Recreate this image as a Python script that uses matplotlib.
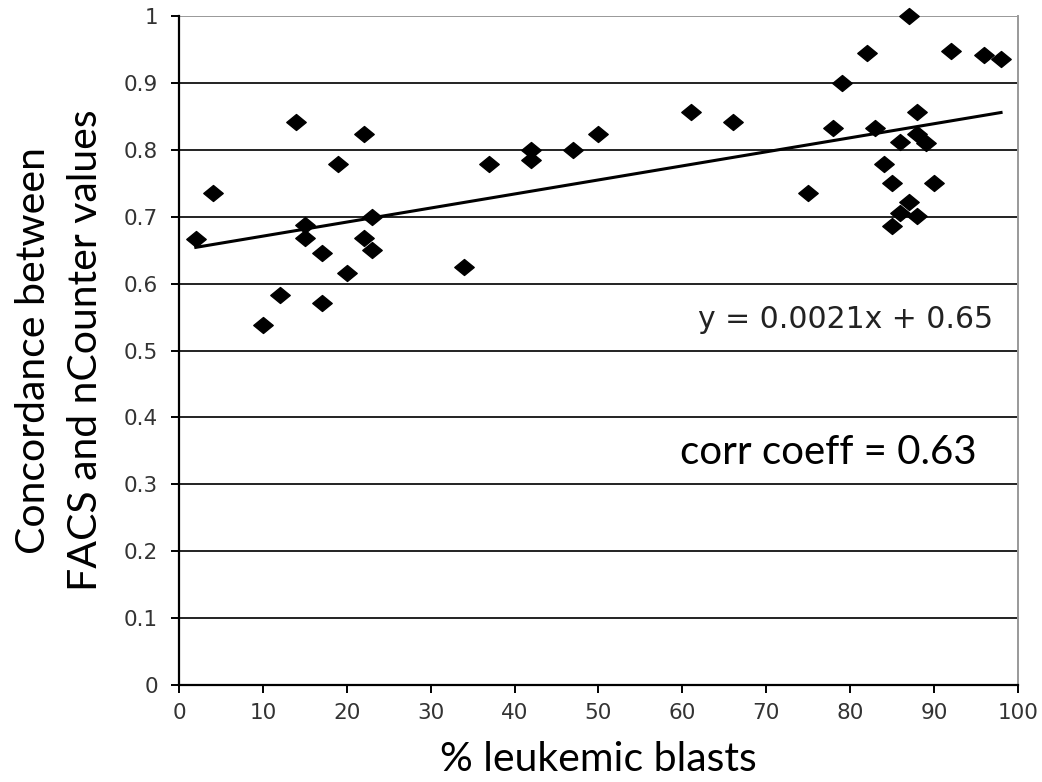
import numpy as np
import matplotlib.pyplot as plt
from matplotlib.path import Path

# % leukemic blasts vs concordance (FACS / nCounter)
blasts = [2, 4, 10, 12, 14, 15, 15, 17, 17, 19, 20, 22, 22, 23, 23,
          34, 37, 42, 42, 47, 50, 61, 66, 75, 78, 79, 82, 83, 84, 85,
          85, 86, 86, 87, 87, 88, 88, 88, 89, 90, 92, 96, 98]
concordance = [0.667, 0.736, 0.538, 0.583, 0.842, 0.688, 0.668, 0.646, 0.571,
               0.779, 0.616, 0.824, 0.668, 0.700, 0.650, 0.625, 0.779, 0.800,
               0.785, 0.800, 0.824, 0.857, 0.842, 0.735, 0.833, 0.900, 0.944,
               0.833, 0.779, 0.750, 0.686, 0.812, 0.706, 1.000, 0.722, 0.857,
               0.824, 0.701, 0.810, 0.750, 0.948, 0.942, 0.936]

slope, intercept = 0.0021, 0.65
x_ticks = list(range(0, 101, 10))
y_ticks = [0, 0.1, 0.2, 0.3, 0.4, 0.5, 0.6, 0.7, 0.8, 0.9, 1]
y_ticklabels = ['0', '0.1', '0.2', '0.3', '0.4', '0.5', '0.6', '0.7', '0.8', '0.9', '1']

big_font = ['Lato', 'DejaVu Sans']

fig = plt.figure(figsize=(10.42, 7.82), dpi=100)
ax = fig.add_axes([0.1718, 0.124, 0.805, 0.8555])

# Excel-like gridlines
for yv in y_ticks[1:-1]:
    ax.axhline(yv, color='#222222', lw=1.4, zorder=1)
ax.axhline(1.0, color='#999999', lw=1.4, zorder=1)

# diamond marker, a little wider than tall
diamond = Path([(-1, 0), (0, 0.82), (1, 0), (0, -0.82), (-1, 0)],
               [Path.MOVETO, Path.LINETO, Path.LINETO, Path.LINETO, Path.CLOSEPOLY])
ax.plot(blasts, concordance, linestyle='none', marker=diamond, ms=14,
        color='black', zorder=3, clip_on=False)

xfit = np.array([min(blasts), max(blasts)])
ax.plot(xfit, slope * xfit + intercept, color='black', lw=2.2, zorder=2)

ax.set_xlim(0, 100)
ax.set_ylim(0, 1)
ax.set_xticks(x_ticks)
ax.set_yticks(y_ticks)
ax.set_yticklabels(y_ticklabels)
ax.tick_params(axis='both', direction='out', length=6, width=1.4,
               labelsize=15.5, labelcolor='#333333', color='black')
ax.tick_params(axis='x', pad=7)
ax.tick_params(axis='y', pad=9)

for side in ['left', 'bottom']:
    ax.spines[side].set_color('black')
    ax.spines[side].set_linewidth(1.6)
ax.spines['right'].set_color('#999999')
ax.spines['right'].set_linewidth(1.4)
ax.spines['top'].set_visible(False)

ax.set_xlabel('% leukemic blasts', fontsize=29.5, family=big_font, labelpad=13)
ax.set_ylabel('Concordance between\nFACS and nCounter values', fontsize=29.5,
              family=big_font, linespacing=1.5)
ax.yaxis.set_label_coords(-0.09, 0.5)

ax.text(97, 0.546, f'y = {slope}x + {intercept}', fontsize=21.5, color='#222222',
        ha='right', va='center')
ax.text(95.1, 0.348, 'corr coeff = 0.63', fontsize=29, family=big_font,
        ha='right', va='center')

fig.savefig('out.png', dpi=100)
